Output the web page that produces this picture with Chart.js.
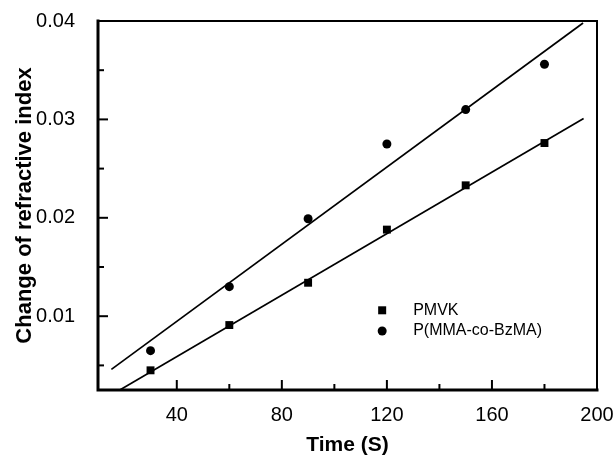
<!DOCTYPE html>
<html lang="en">
<head>
    <meta charset="UTF-8">
    <title>Change of refractive index</title>
    <script src="https://cdn.jsdelivr.net/npm/chart.js"></script>
    <style>
        body { margin: 0; background: #fff; }
        #wrap { width: 616px; height: 458px; }
    </style>
</head>
<body>
    <div id="wrap"><canvas id="riChart"></canvas></div>

    <script>
        // data
        const times = [30, 60, 90, 120, 150, 180];
        const pmvk = [0.0045, 0.0091, 0.0134, 0.0188, 0.0233, 0.0276];
        const pmmaBzma = [0.0065, 0.0130, 0.0199, 0.0275, 0.0310, 0.0356];

        // fitted lines (end points)
        const pmvkFitX = [18.3, 194.9];
        const pmvkFitY = [0.0025, 0.0301];
        const bzmaFitX = [15.1, 194.7];
        const bzmaFitY = [0.0046, 0.0398];

        const xTicks = [40, 60, 80, 100, 120, 140, 160, 180, 200];
        const yTicks = [0.005, 0.01, 0.015, 0.02, 0.025, 0.03, 0.035, 0.04];

        const legendItems = ['PMVK', 'P(MMA-co-BzMA)'];

        const FONT = '"Liberation Sans", Arial, sans-serif';

        const toPts = (xs, ys) => xs.map((x, i) => ({ x: x, y: ys[i] }));
        const isMajorX = v => v % 40 === 0;
        const isMajorY = v => Math.round(v * 1000) % 10 === 0;

        // frame + inward ticks + legend
        const framePlugin = {
            id: 'frame',
            afterDraw(chart) {
                const ctx = chart.ctx;
                const a = chart.chartArea;
                const xs = chart.scales.x, ys = chart.scales.y;
                ctx.save();
                ctx.strokeStyle = '#000';
                ctx.lineCap = 'square';

                // top / right thinner, left / bottom heavier
                ctx.lineWidth = 2;
                ctx.beginPath();
                ctx.moveTo(a.left, a.top);
                ctx.lineTo(a.right, a.top);
                ctx.lineTo(a.right, a.bottom);
                ctx.stroke();
                ctx.lineWidth = 3;
                ctx.beginPath();
                ctx.moveTo(a.left, a.top);
                ctx.lineTo(a.left, a.bottom);
                ctx.lineTo(a.right, a.bottom);
                ctx.stroke();

                ctx.lineCap = 'butt';
                ctx.lineWidth = 2;
                xTicks.forEach(v => {
                    const px = xs.getPixelForValue(v);
                    const len = isMajorX(v) ? 10 : 6;
                    ctx.beginPath();
                    ctx.moveTo(px, a.bottom);
                    ctx.lineTo(px, a.bottom - len);
                    ctx.stroke();
                });
                yTicks.forEach(v => {
                    const py = ys.getPixelForValue(v);
                    const len = isMajorY(v) ? 10 : 6;
                    ctx.beginPath();
                    ctx.moveTo(a.left, py);
                    ctx.lineTo(a.left + len, py);
                    ctx.stroke();
                });

                // legend inside the plot
                const lx = xs.getPixelForValue(118.2);
                const rows = [ys.getPixelForValue(0.0106), ys.getPixelForValue(0.0085)];
                ctx.fillStyle = '#000';
                ctx.font = '16px ' + FONT;
                ctx.textBaseline = 'middle';
                rows.forEach((py, i) => {
                    if (i === 0) {
                        ctx.fillRect(lx - 4, py - 4, 8, 8);
                    } else {
                        ctx.beginPath();
                        ctx.arc(lx, py, 4.5, 0, Math.PI * 2);
                        ctx.fill();
                    }
                    ctx.fillText(legendItems[i], lx + 31, py);
                });
                ctx.restore();
            }
        };

        const ctx = document.getElementById('riChart').getContext('2d');
        new Chart(ctx, {
            type: 'scatter',
            data: {
                datasets: [
                    {
                        label: legendItems[0],
                        data: toPts(times, pmvk),
                        pointStyle: 'rect',
                        pointRadius: 5.6,
                        backgroundColor: '#000',
                        borderColor: '#000',
                        borderWidth: 0
                    },
                    {
                        label: legendItems[1],
                        data: toPts(times, pmmaBzma),
                        pointStyle: 'circle',
                        pointRadius: 4.5,
                        backgroundColor: '#000',
                        borderColor: '#000',
                        borderWidth: 0
                    },
                    {
                        label: 'PMVK fit',
                        data: toPts(pmvkFitX, pmvkFitY),
                        showLine: true,
                        pointRadius: 0,
                        borderColor: '#000',
                        borderWidth: 1.7
                    },
                    {
                        label: 'P(MMA-co-BzMA) fit',
                        data: toPts(bzmaFitX, bzmaFitY),
                        showLine: true,
                        pointRadius: 0,
                        borderColor: '#000',
                        borderWidth: 1.7
                    }
                ]
            },
            options: {
                responsive: true,
                maintainAspectRatio: false,
                animation: false,
                layout: { padding: { left: 12, top: 21, right: 19, bottom: 0 } },
                plugins: {
                    legend: { display: false },
                    tooltip: { enabled: false }
                },
                scales: {
                    x: {
                        type: 'linear',
                        min: 10,
                        max: 200,
                        grid: { display: false },
                        border: { display: false },
                        afterBuildTicks: s => { s.ticks = xTicks.map(v => ({ value: v })); },
                        afterFit: s => { s.height = 68; s.paddingLeft = 0; s.paddingRight = 0; },
                        ticks: {
                            color: '#000',
                            padding: 5,
                            maxRotation: 0,
                            font: { family: FONT, size: 20 },
                            callback: v => isMajorX(v) ? String(v) : ''
                        },
                        title: {
                            display: true,
                            text: 'Time (S)',
                            color: '#000',
                            font: { family: FONT, size: 21, weight: 'bold' },
                            padding: 0
                        }
                    },
                    y: {
                        type: 'linear',
                        min: 0.0025,
                        max: 0.04,
                        grid: { display: false },
                        border: { display: false },
                        afterBuildTicks: s => { s.ticks = yTicks.map(v => ({ value: v })); },
                        afterFit: s => { s.width = 86; s.paddingTop = 0; s.paddingBottom = 0; },
                        ticks: {
                            color: '#000',
                            padding: 15,
                            font: { family: FONT, size: 20 },
                            callback: v => isMajorY(v) ? v.toFixed(2) : ''
                        },
                        title: {
                            display: true,
                            text: 'Change of refractive index',
                            color: '#000',
                            font: { family: FONT, size: 22, weight: 'bold' },
                            padding: 0
                        }
                    }
                }
            },
            plugins: [framePlugin]
        });
    </script>
</body>
</html>
